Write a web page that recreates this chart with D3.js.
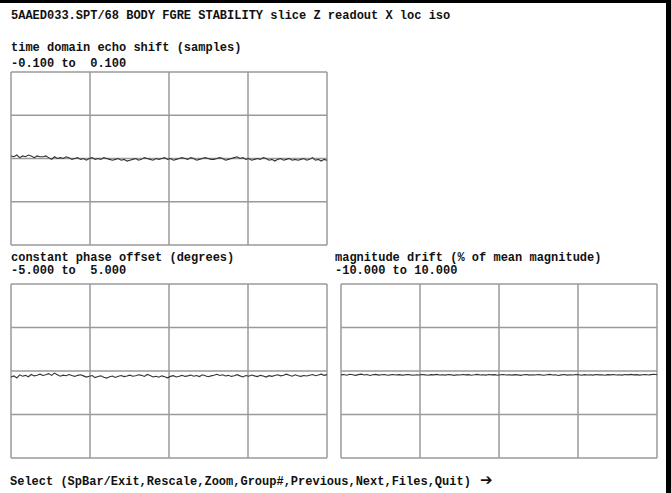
<!DOCTYPE html>
<html>
<head>
<meta charset="utf-8">
<script src="https://cdnjs.cloudflare.com/ajax/libs/d3/7.8.5/d3.min.js"></script>
<style>
  body { margin: 0; background: #fff; }
  svg text { font-family: "Liberation Mono", "DejaVu Sans Mono", monospace; font-weight: bold; font-size: 12px; fill: #111; white-space: pre; }
</style>
</head>
<body>
<div id="myfigure"></div>
<script>
// header / footer text
var titleText = "5AAED033.SPT/68 BODY FGRE STABILITY slice Z readout X loc iso";
var footerText = "Select (SpBar/Exit,Rescale,Zoom,Group#,Previous,Next,Files,Quit) ";

// panel labels and ranges
var panelTitles = ["time domain echo shift (samples)", "constant phase offset (degrees)", "magnitude drift (% of mean magnitude)"];
var rangeLabels = ["-0.100 to  0.100", "-5.000 to  5.000", "-10.000 to 10.000"];
var yDomains = [[-0.1, 0.1], [-5, 5], [-10, 10]];

// traces (one value per time point)
var echoShift = [0.003,0.002,0.004,0.001,0.003,0.002,0.004,0.003,0.001,0.003,0.002,0.002,0.003,0.001,-0.001,0.002,0.000,0.001,0.000,0.002,
  0.001,-0.001,0.000,0.001,-0.001,0.000,-0.002,0.000,0.001,-0.001,0.000,-0.001,0.001,0.000,-0.001,-0.002,-0.001,0.000,-0.002,-0.001,
  -0.003,-0.002,-0.001,0.000,-0.002,-0.001,0.001,0.000,-0.001,-0.002,0.000,-0.001,0.000,0.001,-0.001,0.000,-0.002,-0.001,0.000,0.001,
  0.000,-0.001,0.001,0.000,-0.002,-0.001,0.000,0.001,0.000,-0.001,-0.001,0.000,0.001,0.000,-0.002,-0.001,0.000,0.001,0.002,0.000,
  0.001,-0.001,0.000,-0.002,-0.001,0.000,-0.001,0.001,0.000,-0.002,-0.001,-0.003,-0.001,0.000,-0.002,-0.001,0.000,-0.002,-0.001,-0.002,
  -0.001,0.000,-0.002,-0.001,0.001,-0.002,-0.001,-0.003,-0.001,-0.002];
var phaseOffset = [-0.35,-0.28,-0.40,-0.22,-0.30,-0.25,-0.33,-0.20,-0.28,-0.24,-0.18,-0.26,-0.21,-0.15,-0.25,-0.12,-0.22,-0.30,-0.24,-0.27,
  -0.20,-0.26,-0.31,-0.25,-0.22,-0.28,-0.35,-0.30,-0.26,-0.38,-0.32,-0.28,-0.36,-0.41,-0.33,-0.29,-0.37,-0.30,-0.26,-0.32,
  -0.29,-0.24,-0.30,-0.27,-0.22,-0.25,-0.31,-0.20,-0.26,-0.34,-0.30,-0.36,-0.28,-0.33,-0.39,-0.31,-0.27,-0.34,-0.30,-0.25,
  -0.31,-0.28,-0.23,-0.30,-0.26,-0.32,-0.22,-0.27,-0.33,-0.28,-0.24,-0.19,-0.26,-0.22,-0.29,-0.25,-0.31,-0.27,-0.21,-0.28,
  -0.34,-0.26,-0.30,-0.23,-0.28,-0.32,-0.25,-0.29,-0.35,-0.27,-0.31,-0.26,-0.22,-0.28,-0.24,-0.18,-0.25,-0.30,-0.22,-0.27,
  -0.31,-0.26,-0.29,-0.24,-0.20,-0.27,-0.23,-0.18,-0.25,-0.21];
var magnitudeDrift = [-0.45,-0.40,-0.48,-0.38,-0.44,-0.50,-0.42,-0.36,-0.46,-0.41,-0.52,-0.44,-0.39,-0.47,-0.43,-0.40,-0.48,-0.45,-0.41,-0.46,
  -0.42,-0.47,-0.44,-0.40,-0.45,-0.49,-0.43,-0.46,-0.41,-0.44,-0.48,-0.42,-0.45,-0.39,-0.46,-0.43,-0.47,-0.41,-0.44,-0.50,
  -0.43,-0.46,-0.40,-0.45,-0.42,-0.48,-0.44,-0.39,-0.46,-0.43,-0.47,-0.41,-0.45,-0.42,-0.49,-0.44,-0.40,-0.46,-0.43,-0.47,
  -0.42,-0.45,-0.50,-0.44,-0.40,-0.47,-0.43,-0.46,-0.41,-0.45,-0.48,-0.43,-0.39,-0.46,-0.44,-0.52,-0.45,-0.41,-0.47,-0.43,
  -0.46,-0.40,-0.44,-0.49,-0.42,-0.46,-0.43,-0.47,-0.41,-0.45,-0.43,-0.48,-0.42,-0.45,-0.40,-0.46,-0.43,-0.47,-0.41,-0.44,
  -0.39,-0.45,-0.42,-0.47,-0.43,-0.40,-0.46,-0.42,-0.38,-0.44];
var series = [echoShift, phaseOffset, magnitudeDrift];

var width = 671, height = 493;

// panel boxes on the page
var panels = [
  { left: 11, right: 327, top: 72, bottom: 245, titleX: 11, titleY: 51, rangeY: 67 },
  { left: 11, right: 327, top: 284, bottom: 458, titleX: 11, titleY: 261, rangeY: 274 },
  { left: 341, right: 657, top: 284, bottom: 458, titleX: 335, titleY: 261, rangeY: 274 }
];

var svg = d3.select("#myfigure")
  .append("svg")
  .attr("width", width)
  .attr("height", height);

svg.append("rect").attr("width", width).attr("height", height).attr("fill", "#fff");

// black screen edges (top and right)
svg.append("rect").attr("x", 0).attr("y", 0).attr("width", width).attr("height", 3).attr("fill", "#000");
svg.append("rect").attr("x", 666).attr("y", 0).attr("width", 5).attr("height", height).attr("fill", "#000");

svg.append("text").attr("x", 11).attr("y", 19).text(titleText);
var footer = svg.append("text").attr("x", 10).attr("y", 485).text(footerText);
footer.append("tspan")
  .style("font-family", "'DejaVu Sans', sans-serif")
  .style("font-size", "15px")
  .attr("dx", 2)
  .text("\u2794");

panels.forEach(function(p, i) {
  var data = series[i];
  var xScale = d3.scaleLinear().domain([0, data.length - 1]).range([p.left, p.right]);
  var yScale = d3.scaleLinear().domain(yDomains[i]).range([p.bottom, p.top]);

  svg.append("text").attr("x", p.titleX).attr("y", p.titleY).text(panelTitles[i]);
  svg.append("text").attr("x", p.titleX).attr("y", p.rangeY).text(rangeLabels[i]);

  var g = svg.append("g");
  // grid: 4 x 4 boxes
  var xt = d3.range(5).map(function(k) { return k * (data.length - 1) / 4; });
  var yt = d3.range(5).map(function(k) { return yDomains[i][0] + k * (yDomains[i][1] - yDomains[i][0]) / 4; });
  g.selectAll("line.v").data(xt).enter().append("line")
    .attr("x1", function(d) { return xScale(d); }).attr("x2", function(d) { return xScale(d); })
    .attr("y1", p.top).attr("y2", p.bottom)
    .attr("stroke", "#9a9a9a").attr("stroke-width", 1.5);
  g.selectAll("line.h").data(yt).enter().append("line")
    .attr("y1", function(d) { return yScale(d); }).attr("y2", function(d) { return yScale(d); })
    .attr("x1", p.left).attr("x2", p.right)
    .attr("stroke", "#9a9a9a").attr("stroke-width", 1.5);

  var line = d3.line()
    .x(function(d, k) { return xScale(k); })
    .y(function(d) { return yScale(d); });

  g.append("path")
    .datum(data)
    .attr("d", line)
    .attr("fill", "none")
    .attr("stroke", "#333")
    .attr("stroke-width", 1.1);
});
</script>
</body>
</html>
